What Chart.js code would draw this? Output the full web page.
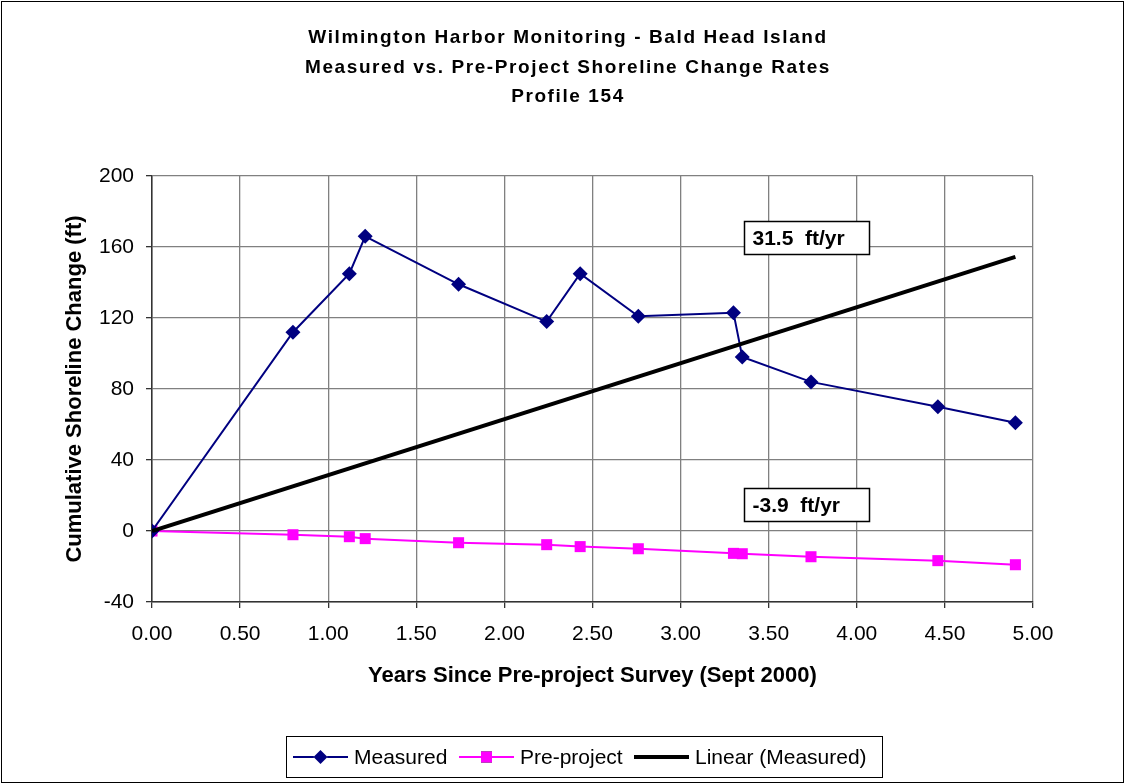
<!DOCTYPE html>
<html>
<head>
<meta charset="utf-8">
<title>Profile 154</title>
<script src="https://cdn.jsdelivr.net/npm/chart.js@4"></script>
<style>
  html, body { margin: 0; padding: 0; background: #fff; }
  #chart { display: block; }
</style>
</head>
<body>
<canvas id="chart" width="1125" height="784"></canvas>
<script>
const titleLines = [
  'Wilmington Harbor Monitoring - Bald Head Island',
  'Measured vs. Pre-Project Shoreline Change Rates',
  'Profile 154'
]

const years = [0, 0.80, 1.12, 1.21, 1.74, 2.24, 2.43, 2.76, 3.30, 3.35, 3.74, 4.46, 4.90]
const measured = [0, 112, 145, 166, 139, 118, 145, 121, 123, 98, 84, 70, 61]
const preProject = [0, -2.1, -3.2, -4.3, -6.6, -7.7, -8.8, -10.0, -12.6, -12.8, -14.5, -16.7, -19.0]

// Excel linear trendline (forced through origin), end points only
const trendYears = [0, 4.90]
const trendValues = [0, 154.4]

const rateLabels = ['31.5  ft/yr', '-3.9  ft/yr']
// where each rate box sits, in data units (left edge year, top edge ft)
const rateBoxYears = [3.36, 3.36]
const rateBoxValues = [174.5, 24.5]

const legendNames = ['Measured', 'Pre-project', 'Linear (Measured)']

const FONT = "'Liberation Sans', Arial, sans-serif"
const NAVY = '#000080'
const MAGENTA = '#ff00ff'

function toPoints (xs, ys) {
  return xs.map((x, i) => ({ x, y: ys[i] }))
}

const decorations = {
  id: 'decorations',
  afterDraw (chart) {
    const ctx = chart.ctx
    const xs = chart.scales.x
    const ys = chart.scales.y

    ctx.save()

    // outer frame
    ctx.strokeStyle = '#000'
    ctx.lineWidth = 1
    ctx.strokeRect(1.5, 1.5, 1122, 781)

    // title, slightly letter-spaced like the Excel original
    ctx.fillStyle = '#000'
    ctx.font = `bold 19px ${FONT}`
    ctx.textAlign = 'center'
    ctx.textBaseline = 'middle'
    ctx.letterSpacing = '1.6px'
    titleLines.forEach((line, i) => {
      ctx.fillText(line, 568, 38 + i * 29.5)
    })
    ctx.letterSpacing = '0px'

    // rate boxes
    ctx.font = `bold 21px ${FONT}`
    ctx.textAlign = 'left'
    rateLabels.forEach((label, i) => {
      const left = Math.round(xs.getPixelForValue(rateBoxYears[i])) + 0.5
      const top = Math.round(ys.getPixelForValue(rateBoxValues[i])) + 0.5
      const w = 125
      const h = 33
      ctx.fillStyle = '#fff'
      ctx.fillRect(left, top, w, h)
      ctx.strokeStyle = '#000'
      ctx.lineWidth = 1.5
      ctx.strokeRect(left, top, w, h)
      ctx.fillStyle = '#000'
      ctx.fillText(label, left + 8, top + h / 2 + 1)
    })

    // legend
    const lx = 286.5
    const ly = 736.5
    const lw = 596
    const lh = 41
    const cy = ly + lh / 2
    ctx.fillStyle = '#fff'
    ctx.fillRect(lx, ly, lw, lh)
    ctx.strokeStyle = '#000'
    ctx.lineWidth = 1
    ctx.strokeRect(lx, ly, lw, lh)

    const entries = [
      { x: 293, color: NAVY, width: 2, marker: 'rectRot', radius: 7 },
      { x: 459, color: MAGENTA, width: 2, marker: 'rect', radius: 7.8 },
      { x: 634, color: '#000', width: 4, marker: null }
    ]
    ctx.font = `21px ${FONT}`
    ctx.textBaseline = 'middle'
    entries.forEach((e, i) => {
      ctx.strokeStyle = e.color
      ctx.lineWidth = e.width
      ctx.beginPath()
      ctx.moveTo(e.x, cy)
      ctx.lineTo(e.x + 55, cy)
      ctx.stroke()
      if (e.marker) {
        Chart.helpers.drawPoint(ctx, {
          pointStyle: e.marker,
          radius: e.radius,
          rotation: 0,
          borderWidth: 0
        }, e.x + 27.5, cy)
        ctx.fillStyle = e.color
        ctx.fill()
      }
      ctx.fillStyle = '#000'
      ctx.fillText(legendNames[i], e.x + 61, cy + 1)
    })

    ctx.restore()
  }
}

const ctx = document.getElementById('chart').getContext('2d')

const chart = new Chart(ctx, {
  type: 'line',
  data: {
    datasets: [
      {
        label: legendNames[0],
        data: toPoints(years, measured),
        borderColor: NAVY,
        backgroundColor: NAVY,
        borderWidth: 2,
        pointStyle: 'rectRot',
        pointRadius: 7.5,
        pointBorderWidth: 0,
        tension: 0,
        order: 1
      },
      {
        label: legendNames[1],
        data: toPoints(years, preProject),
        borderColor: MAGENTA,
        backgroundColor: MAGENTA,
        borderWidth: 2,
        pointStyle: 'rect',
        pointRadius: 7.8,
        pointBorderWidth: 0,
        tension: 0,
        order: 2
      },
      {
        label: legendNames[2],
        data: toPoints(trendYears, trendValues),
        borderColor: '#000',
        borderWidth: 4,
        pointRadius: 0,
        tension: 0,
        order: 0
      }
    ]
  },
  options: {
    responsive: false,
    animation: false,
    devicePixelRatio: 1,
    layout: {
      padding: { top: 176, right: 92, bottom: 62, left: 0 }
    },
    plugins: {
      legend: { display: false },
      title: { display: false },
      tooltip: { enabled: false }
    },
    scales: {
      x: {
        type: 'linear',
        min: 0,
        max: 5,
        afterFit (scale) { scale.height = 120 },
        ticks: {
          stepSize: 0.5,
          color: '#000',
          padding: 14,
          maxRotation: 0,
          font: { family: FONT, size: 21 },
          callback: v => v.toFixed(2)
        },
        grid: {
          color: '#808080',
          lineWidth: 1.3,
          tickLength: 6,
          tickColor: '#333'
        },
        border: { color: '#333', width: 1.5 },
        title: {
          display: true,
          text: 'Years Since Pre-project Survey (Sept 2000)',
          color: '#000',
          font: { family: FONT, size: 22, weight: 'bold' },
          padding: { top: 0, bottom: 33 }
        }
      },
      y: {
        min: -40,
        max: 200,
        afterFit (scale) { scale.width = 152 },
        ticks: {
          stepSize: 40,
          color: '#000',
          padding: 12,
          font: { family: FONT, size: 21 }
        },
        grid: {
          color: '#808080',
          lineWidth: 1.3,
          tickLength: 6,
          tickColor: '#333'
        },
        border: { color: '#333', width: 1.5 },
        title: {
          display: true,
          text: 'Cumulative Shoreline Change (ft)',
          color: '#000',
          font: { family: FONT, size: 22, weight: 'bold' },
          padding: { top: 62, bottom: 0 }
        }
      }
    }
  },
  plugins: [decorations]
})
</script>
</body>
</html>
